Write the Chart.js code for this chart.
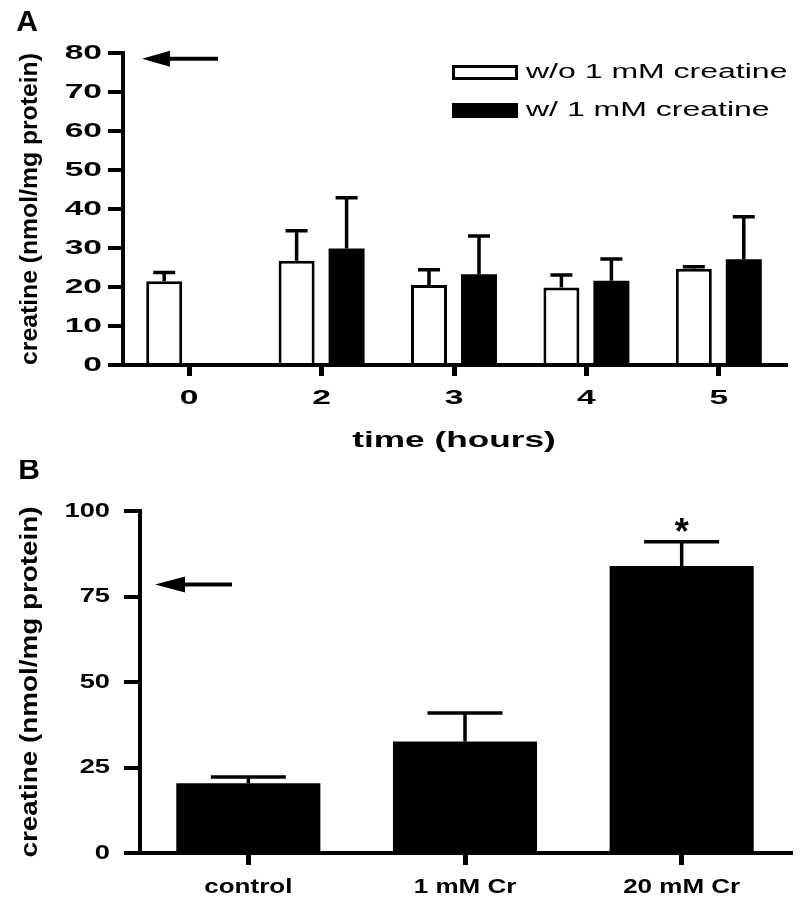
<!DOCTYPE html>
<html>
<head>
<meta charset="utf-8">
<script src="https://cdn.jsdelivr.net/npm/chart.js@4.4.0/dist/chart.umd.min.js"></script>
<style>
  body { margin: 0; background: #fff; }
  canvas { display: block; }
</style>
</head>
<body>
<canvas id="chartA" width="800" height="460"></canvas>
<canvas id="chartB" width="800" height="449"></canvas>
<script>
// panel A: time course
const hours = ['0', '2', '3', '4', '5'];
const seriesNames = ['w/o 1 mM creatine', 'w/ 1 mM creatine'];
const withoutCr = [21.5, 26.7, 20.5, 19.9, 24.7];
const withoutCrErr = [2.2, 7.7, 3.9, 3.2, 0.5];
const withCr = [null, 29.9, 23.3, 21.6, 27.1];
const withCrErr = [null, 13.0, 9.8, 5.6, 10.9];
const ticksA = [0, 10, 20, 30, 40, 50, 60, 70, 80];

// panel B: dose
const doses = ['control', '1 mM Cr', '20 mM Cr'];
const doseMeans = [20.4, 32.6, 83.9];
const doseErr = [1.8, 8.3, 7.1];
const doseMarks = ['', '', '*'];
const ticksB = [0, 25, 50, 75, 100];

// level marked by the arrows
const tissueLevel = 78.5;

const family = "'Liberation Sans', Arial, sans-serif";

// the figure's lettering is drawn wide, so stretch text horizontally
function widenText(ctx, sx, sr) {
  const fill = ctx.fillText.bind(ctx);
  const measure = ctx.measureText.bind(ctx);
  ctx.plainFillText = fill;
  ctx.fillText = function (text, x, y) {
    const t = ctx.getTransform();
    const k = Math.abs(t.b) > 1e-6 ? sr : sx;
    ctx.save();
    ctx.translate(x, y);
    ctx.scale(k, 1);
    fill(text, 0, 0);
    ctx.restore();
  };
  ctx.measureText = function (text) {
    const m = measure(text);
    return { width: m.width * sx, actualBoundingBoxAscent: m.actualBoundingBoxAscent, actualBoundingBoxDescent: m.actualBoundingBoxDescent };
  };
}

const errorBars = {
  id: 'errorBars',
  afterDatasetsDraw(chart, args, o) {
    const ctx = chart.ctx;
    const y = chart.scales.y;
    ctx.save();
    ctx.strokeStyle = '#000';
    ctx.lineWidth = o.lineWidth;
    chart.data.datasets.forEach((ds, i) => {
      chart.getDatasetMeta(i).data.forEach((bar, j) => {
        const v = ds.data[j];
        const e = ds.errors[j];
        if (v == null || e == null) return;
        const top = y.getPixelForValue(v + e);
        ctx.beginPath();
        ctx.moveTo(bar.x, bar.y);
        ctx.lineTo(bar.x, top);
        ctx.moveTo(bar.x - o.capWidth / 2, top);
        ctx.lineTo(bar.x + o.capWidth / 2, top);
        ctx.stroke();
        if (ds.marks && ds.marks[j]) {
          ctx.fillStyle = '#000';
          ctx.font = 'bold 36px ' + family;
          ctx.textAlign = 'center';
          ctx.textBaseline = 'alphabetic';
          ctx.plainFillText(ds.marks[j], bar.x, top + 2);
        }
      });
    });
    ctx.restore();
  }
};

const arrow = {
  id: 'arrow',
  afterDraw(chart, args, o) {
    const ctx = chart.ctx;
    const y = chart.scales.y.getPixelForValue(o.value);
    const tip = chart.chartArea.left + o.gap;
    ctx.save();
    ctx.strokeStyle = '#000';
    ctx.fillStyle = '#000';
    ctx.lineWidth = 4;
    ctx.beginPath();
    ctx.moveTo(tip + o.head - 2, y);
    ctx.lineTo(tip + o.length, y);
    ctx.stroke();
    ctx.beginPath();
    ctx.moveTo(tip, y);
    ctx.lineTo(tip + o.head, y - o.half);
    ctx.lineTo(tip + o.head, y + o.half);
    ctx.closePath();
    ctx.fill();
    ctx.restore();
  }
};

const panelLabel = {
  id: 'panelLabel',
  afterDraw(chart, args, o) {
    const ctx = chart.ctx;
    ctx.save();
    ctx.fillStyle = '#000';
    ctx.font = 'bold 30px ' + family;
    ctx.textAlign = 'center';
    ctx.textBaseline = 'middle';
    ctx.plainFillText(o.text, o.x, o.y);
    ctx.restore();
  }
};

const boxLegend = {
  id: 'boxLegend',
  afterDraw(chart, args, o) {
    if (!o.show) return;
    const ctx = chart.ctx;
    ctx.save();
    ctx.font = '20px ' + family;
    ctx.textBaseline = 'middle';
    ctx.textAlign = 'left';
    chart.data.datasets.forEach((ds, i) => {
      const y = o.top + i * o.rowGap;
      ctx.fillStyle = ds.backgroundColor;
      ctx.fillRect(o.x, y, o.boxWidth, o.boxHeight);
      if (ds.borderWidth) {
        ctx.lineWidth = ds.borderWidth;
        ctx.strokeStyle = ds.borderColor;
        ctx.strokeRect(o.x + 1.5, y + 1.5, o.boxWidth - 3, o.boxHeight - 3);
      }
      ctx.fillStyle = '#000';
      ctx.fillText(ds.label, o.x + o.boxWidth + 8, y + o.boxHeight / 2);
    });
    ctx.restore();
  }
};

function axisFont(size) {
  return { family: family, size: size, weight: 'bold' };
}

const ctxA = document.getElementById('chartA').getContext('2d');
widenText(ctxA, 1.6, 1.03);

new Chart(ctxA, {
  type: 'bar',
  data: {
    labels: hours,
    datasets: [{
      label: seriesNames[0],
      data: withoutCr,
      errors: withoutCrErr,
      backgroundColor: '#fff',
      borderColor: '#000',
      borderWidth: 3,
      borderSkipped: 'bottom'
    }, {
      label: seriesNames[1],
      data: withCr,
      errors: withCrErr,
      backgroundColor: '#000',
      borderWidth: 0
    }]
  },
  options: {
    responsive: false,
    animation: false,
    categoryPercentage: 0.755,
    barPercentage: 0.72,
    layout: { padding: { left: 16, top: 53, right: 15, bottom: 6 } },
    plugins: {
      legend: { display: false },
      tooltip: { enabled: false },
      errorBars: { capWidth: 22, lineWidth: 3.5 },
      arrow: { value: tissueLevel, gap: 19, length: 76, head: 28, half: 8 },
      panelLabel: { text: 'A', x: 27, y: 23 },
      boxLegend: { show: true, x: 452, top: 65, rowGap: 38, boxWidth: 66, boxHeight: 15 }
    },
    scales: {
      x: {
        grid: { offset: false, drawOnChartArea: false, tickLength: 11, lineWidth: 5, color: '#000' },
        border: { width: 4, color: '#000' },
        ticks: { color: '#000', font: axisFont(21), padding: 10 },
        title: { display: true, text: 'time (hours)', color: '#000', font: axisFont(22), padding: 0 },
        afterFit: s => { s.height = 89; }
      },
      y: {
        min: 0,
        max: 80,
        afterBuildTicks: s => { s.ticks = ticksA.map(v => ({ value: v })); },
        grid: { drawOnChartArea: false, tickLength: 15, lineWidth: 4, color: '#000' },
        border: { width: 4, color: '#000' },
        ticks: { color: '#000', font: axisFont(21), padding: 6 },
        title: { display: true, text: 'creatine (nmol/mg protein)', color: '#000', font: axisFont(24), padding: 0 },
        afterFit: s => { s.width = 107; }
      }
    }
  },
  plugins: [errorBars, arrow, panelLabel, boxLegend]
});

const ctxB = document.getElementById('chartB').getContext('2d');
widenText(ctxB, 1.3, 1.16);

new Chart(ctxB, {
  type: 'bar',
  data: {
    labels: doses,
    datasets: [{
      label: 'creatine',
      data: doseMeans,
      errors: doseErr,
      marks: doseMarks,
      backgroundColor: '#000',
      borderWidth: 0
    }]
  },
  options: {
    responsive: false,
    animation: false,
    categoryPercentage: 1,
    barPercentage: 0.665,
    layout: { padding: { left: 16, top: 51, right: 10, bottom: 0 } },
    plugins: {
      legend: { display: false },
      tooltip: { enabled: false },
      errorBars: { capWidth: 75, lineWidth: 3.5 },
      arrow: { value: tissueLevel, gap: 15, length: 77, head: 30, half: 8 },
      panelLabel: { text: 'B', x: 29, y: 11 },
      boxLegend: { show: false }
    },
    scales: {
      x: {
        grid: { offset: false, drawOnChartArea: false, tickLength: 12, lineWidth: 5, color: '#000' },
        border: { width: 4, color: '#000' },
        ticks: { color: '#000', font: axisFont(20), padding: 10 },
        afterFit: s => { s.height = 56; }
      },
      y: {
        min: 0,
        max: 100,
        afterBuildTicks: s => { s.ticks = ticksB.map(v => ({ value: v })); },
        grid: { drawOnChartArea: false, tickLength: 16, lineWidth: 4, color: '#000' },
        border: { width: 4, color: '#000' },
        ticks: { color: '#000', font: axisFont(21), padding: 14 },
        title: { display: true, text: 'creatine (nmol/mg protein)', color: '#000', font: axisFont(24), padding: 0 },
        afterFit: s => { s.width = 124; }
      }
    }
  },
  plugins: [errorBars, arrow, panelLabel, boxLegend]
});
</script>
</body>
</html>
